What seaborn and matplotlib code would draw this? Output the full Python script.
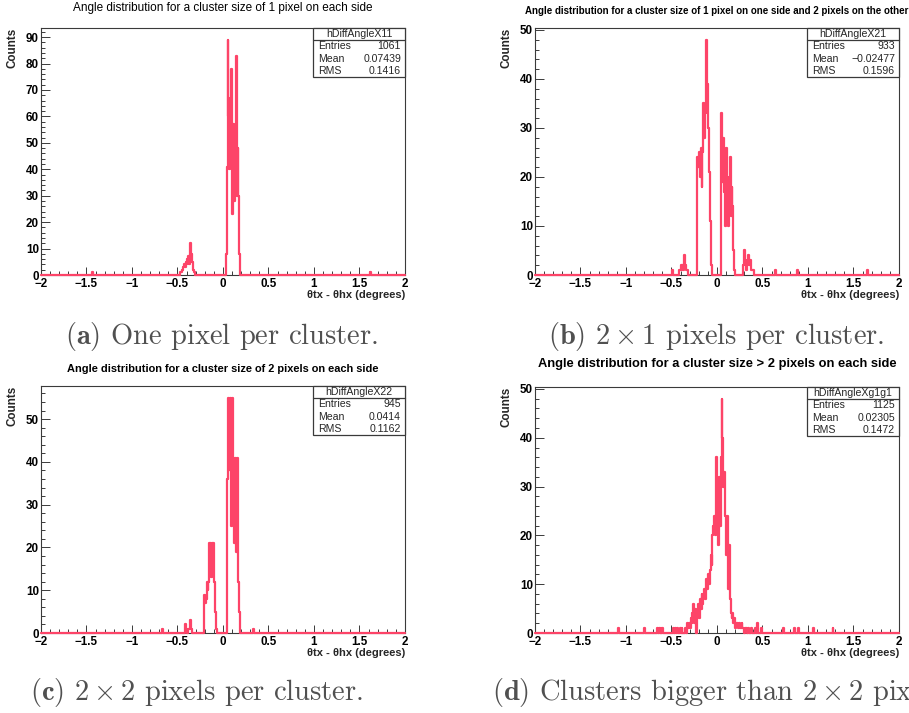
import numpy as np
import pandas as pd
import matplotlib
matplotlib.use("Agg")
import matplotlib.pyplot as plt
import seaborn as sns
from matplotlib.patches import Rectangle
from matplotlib.lines import Line2D

# ---------------- data ----------------
BIN_LO, BIN_HI, N_BINS = -2.0, 2.0, 400

A_STARTS = [-1.44, -0.47, 0.03, 1.62]
A_RUNS = [[1],
          [1, 1, 2, 3, 4, 3, 5, 6, 4, 7, 4, 12, 8, 5, 2, 1],
          [8, 41, 89, 60, 40, 67, 78, 23, 57, 28, 45, 83, 30, 48, 30, 8],
          [1]]

B_STARTS = [-0.49, -0.42, -0.22, 0.04, 0.29, 0.64, 0.88, 1.65]
B_RUNS = [[1],
          [1, 1, 2, 1, 2, 1, 4, 2, 1, 1],
          [24, 22, 25, 20, 26, 18, 25, 35, 28, 33, 48, 39, 30, 21, 11, 2],
          [33, 30, 19, 28, 17, 10, 26, 20, 10, 18, 24, 12, 18, 14, 5, 1],
          [2, 5, 3, 1, 2, 4, 2, 3, 1, 1, 1, 1],
          [1], [1], [1]]

C_STARTS = [-0.67, -0.42, -0.38, -0.21, 0.04, 0.33]
C_RUNS = [[1],
          [2, 1],
          [1, 1, 3, 1],
          [9, 7, 8, 12, 10, 12, 21, 21, 13, 21, 21, 12, 5, 1],
          [36, 53, 55, 38, 55, 25, 55, 41, 21, 41, 19, 41, 28, 12, 5],
          [1]]

D_STARTS = [-1.09, -0.80, -0.66, -0.48, -0.35, 0.37, 0.42, 0.73, 0.85, 1.06, 1.27]
D_RUNS = [[1],
          [1],
          [1, 0, 1, 0, 1, 0, 1],
          [1, 0, 1, 0, 1, 0, 0, 1, 0, 1],
          [1, 0, 2, 1, 2, 1, 3, 2, 4, 6,
           2, 5, 0, 4, 6, 3, 7, 5, 8, 6,
           8, 9, 7, 11, 9, 12, 10, 13, 16, 14,
           20, 22, 24, 20, 36, 24, 18, 32, 22, 36,
           48, 40, 30, 33, 24, 16, 24, 9, 18, 7,
           4, 3, 4, 2, 3, 1, 2, 2, 1, 2,
           1, 1, 2, 1, 1, 0, 1, 1, 0, 1],
          [1],
          [1, 0, 2, 0, 0, 0, 1],
          [1],
          [1, 0, 0, 0, 1],
          [1],
          [1]]

TITLES = ["Angle distribution for a cluster size of 1 pixel on each side",
          "Angle distribution for a cluster size of 1 pixel on one side and 2 pixels on the other",
          "Angle distribution for a cluster size of 2 pixels on each side",
          "Angle distribution for a cluster size > 2 pixels on each side"]
HIST_NAMES = ["hDiffAngleX11", "hDiffAngleX21", "hDiffAngleX22", "hDiffAngleXg1g1"]
ENTRIES = ["1061", "933", "945", "1125"]
MEANS = ["0.07439", "\u22120.02477", "0.0414", "0.02305"]
RMSS = ["0.1416", "0.1596", "0.1162", "0.1472"]
Y_MAX = [89, 48, 55, 48]
Y_TICKS = [list(range(0, 91, 10)), list(range(0, 51, 10)),
           list(range(0, 51, 10)), list(range(0, 51, 10))]
X_TICKS = [-2, -1.5, -1, -0.5, 0, 0.5, 1, 1.5, 2]
X_TICK_LABELS = ["\u22122", "\u22121.5", "\u22121", "\u22120.5", "0", "0.5", "1", "1.5", "2"]
X_LABEL = "\u03b8tx - \u03b8hx (degrees)"
Y_LABEL = "Counts"
CAPTIONS = [r"$\mathbf{(a)}$ One pixel per cluster.",
            r"$\mathbf{(b)}$ $2\times1$ pixels per cluster.",
            r"$\mathbf{(c)}$ $2\times2$ pixels per cluster.",
            r"$\mathbf{(d)}$ Clusters bigger than $2\times2$ pixels per cluster."]

# ---------------- layout ----------------
W, H = 909, 713
RED = "#fd4468"
FRAME = "#3a3a3a"
SANS = ["Liberation Sans", "DejaVu Sans"]

sns.set_theme(style="white")
plt.rcParams["font.family"] = SANS
plt.rcParams["mathtext.fontset"] = "cm"

fig = plt.figure(figsize=(W / 100, H / 100), dpi=100)


def fx(px):
    return px / W


def fy(py):
    return 1 - py / H


PANELS = [(41, 28, 405, 275), (535, 28, 899, 275), (41, 386, 405, 633), (535, 387, 899, 633)]
TITLE_Y = [7.5, 10.7, 369.5, 364.5]
TITLE_FS = [8.5, 7.0, 7.9, 9.3]
TITLE_W = ["normal", "bold", "bold", "bold"]
CAP_POS = [(65, 344), (548, 344), (30, 700), (492, 700)]
TICK_FS = 8.4
STAT_FS = 7.6

edges = np.linspace(BIN_LO, BIN_HI, N_BINS + 1)
centers = 0.5 * (edges[:-1] + edges[1:])


def build(starts, runs):
    counts = np.zeros(N_BINS)
    for s, r in zip(starts, runs):
        i0 = int(round((s - BIN_LO) / (BIN_HI - BIN_LO) * N_BINS))
        counts[i0:i0 + len(r)] = r
    return counts


ALL = [(A_STARTS, A_RUNS), (B_STARTS, B_RUNS), (C_STARTS, C_RUNS), (D_STARTS, D_RUNS)]

for k, (starts, runs) in enumerate(ALL):
    l, t, r, b = PANELS[k]
    ax = fig.add_axes([fx(l), fy(b), (r - l) / W, (b - t) / H])
    df = pd.DataFrame({"angle": centers, "n": build(starts, runs)})
    sns.histplot(data=df, x="angle", weights="n", binwidth=(BIN_HI - BIN_LO) / N_BINS,
                 binrange=(BIN_LO, BIN_HI), element="step", fill=False,
                 color=RED, linewidth=1.6, ax=ax)
    for ln in ax.lines:
        ln.set_clip_on(False)
        ln.set_zorder(3)
    ax.set_xlim(BIN_LO, BIN_HI)
    ax.set_ylim(0, Y_MAX[k] * 1.05)
    ax.set_xlabel("")
    ax.set_ylabel("")
    ax.set_xticks(X_TICKS, X_TICK_LABELS)
    ax.set_xticks(np.arange(-2, 2.001, 0.1), minor=True)
    ax.set_yticks(Y_TICKS[k], [str(v) for v in Y_TICKS[k]])
    ax.set_yticks(np.arange(0, Y_MAX[k] * 1.05, 2), minor=True)
    for sp in ax.spines.values():
        sp.set_color(FRAME)
        sp.set_linewidth(0.8)
    ax.tick_params(axis="both", which="both", direction="in", color=FRAME, width=0.7,
                   top=False, right=False, bottom=True, left=True)
    ax.tick_params(axis="x", which="major", length=5.8, pad=2.0, labelsize=TICK_FS)
    ax.tick_params(axis="x", which="minor", length=2.9)
    ax.tick_params(axis="y", which="major", length=6.3, pad=1.6, labelsize=TICK_FS)
    ax.tick_params(axis="y", which="minor", length=3.2)
    for lab in ax.get_xticklabels() + ax.get_yticklabels():
        lab.set_fontweight("bold")
        lab.set_color("black")

    # title
    fig.text(fx((l + r) / 2), fy(TITLE_Y[k]), TITLES[k], ha="center", va="center",
             fontsize=TITLE_FS[k], fontweight=TITLE_W[k], color="black")
    # axis titles
    fig.text(fx(l - 28), fy(t), Y_LABEL, rotation=90, ha="center", va="top",
             fontsize=8.4, fontweight="bold")
    fig.text(fx(r), fy(b + 20), X_LABEL, ha="right", va="center",
             fontsize=8.0, fontweight="bold")

    # stats box
    bx0, by0, bw, bh = r - 92, t, 92, 49
    fig.add_artist(Rectangle((fx(bx0), fy(by0 + bh)), bw / W, bh / H,
                             transform=fig.transFigure, facecolor="white",
                             edgecolor=FRAME, linewidth=0.9, zorder=5))
    fig.add_artist(Line2D([fx(bx0), fx(bx0 + bw)], [fy(by0 + 12), fy(by0 + 12)],
                          transform=fig.transFigure, color=FRAME, linewidth=0.9, zorder=6))
    fig.text(fx(bx0 + bw / 2), fy(by0 + 6.3), HIST_NAMES[k], ha="center", va="center",
             fontsize=STAT_FS, zorder=7)
    rows = [("Entries", ENTRIES[k]), ("Mean", MEANS[k]), ("RMS", RMSS[k])]
    for j, (name, val) in enumerate(rows):
        yy = by0 + 18.3 + j * 12.4
        fig.text(fx(bx0 + 5), fy(yy), name, ha="left", va="center", fontsize=STAT_FS, zorder=7)
        fig.text(fx(bx0 + bw - 4), fy(yy), val, ha="right", va="center", fontsize=STAT_FS, zorder=7)

    # caption
    cx, cy = CAP_POS[k]
    fig.text(fx(cx), fy(cy), CAPTIONS[k], ha="left", va="baseline", fontsize=20.5,
             family="cmr10", color="#505050")

fig.savefig("out.png", dpi=100)
